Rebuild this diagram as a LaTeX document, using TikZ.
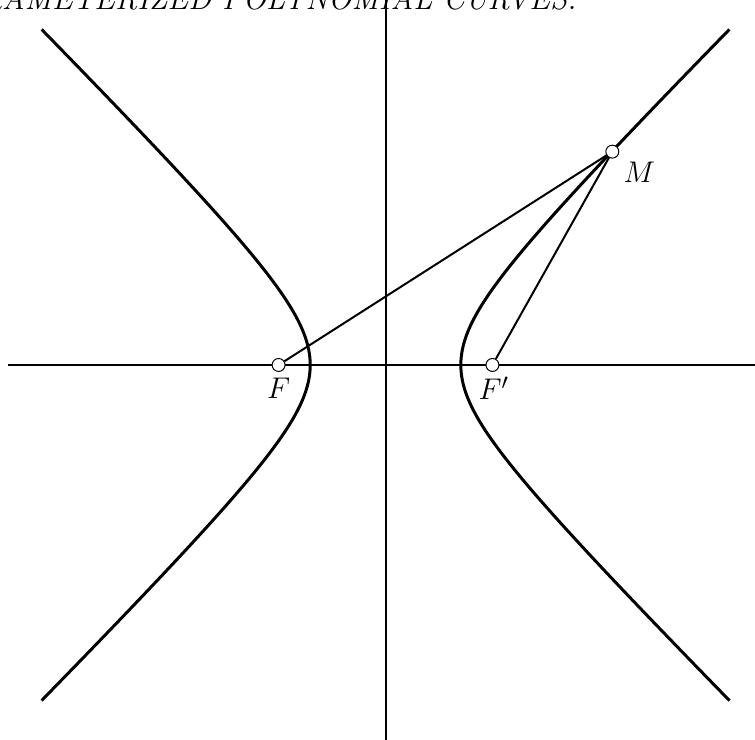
\documentclass[tikz,border=0pt]{standalone}
\usetikzlibrary{positioning,calc}
\begin{document}
\begin{tikzpicture}[x=1.0625cm,y=1.0625cm,
  axis/.style={line width=0.8pt},
  curve/.style={line width=1.2pt},
  seg/.style={line width=0.8pt},
  lbl/.style={inner sep=0pt,font=\fontsize{12.4}{15}\selectfont},
  pt/.style={circle,draw,line width=0.4pt,fill=white,inner sep=0pt,minimum size=5.2pt}]
\useasboundingbox (-5.120,-4.980) rectangle (4.907,4.847);
\begin{scope}
\clip (-5.120,-4.980) rectangle (4.907,4.847);
\node[anchor=base east,inner sep=0pt,font=\fontsize{12.5}{15}\selectfont\itshape] (title) at (2.543,4.718) {PARAMETERIZED POLYNOMIAL CURVES.};
\coordinate (xl) at (-5.013,0);
\coordinate (xr) at (5.2,0);
\coordinate (yb) at (0,-5.2);
\coordinate (yt) at (0,5.2);
\draw[axis] (xl) -- (xr);
\draw[axis] (yb) -- (yt);
\draw[curve,domain=-2.2:2.2,samples=120,variable=\t] plot ({cosh(\t)},{sinh(\t)});
\draw[curve,domain=-2.2:2.2,samples=120,variable=\t] plot ({-cosh(\t)},{sinh(\t)});
\node[pt] (F) at (-1.42,0) {};
\node[pt] (Fp) at (1.42,0) {};
\node[pt] (M) at (3.012,2.833) {};
\draw[seg] (F) -- (M);
\draw[seg] (Fp) -- (M);
\node[lbl] (lF) at ($(F)+(0,-0.31)$) {$F$};
\node[lbl] (lFp) at ($(Fp)+(0.02,-0.31)$) {$F'$};
\node[lbl] (lM) at ($(M)+(0.36,-0.27)$) {$M$};
\end{scope}
\end{tikzpicture}
\end{document}
